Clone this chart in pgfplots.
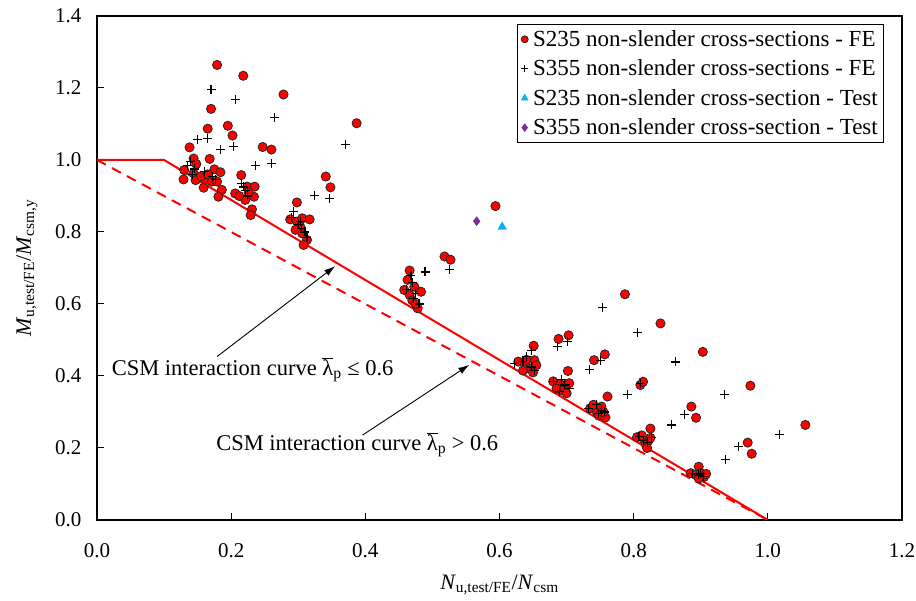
\documentclass[border=0pt]{standalone}
\usepackage{fontspec}
\setmainfont{Liberation Serif}
\usepackage{pgfplots}
\pgfplotsset{compat=1.18}
\usetikzlibrary{arrows.meta}
\definecolor{testcyan}{RGB}{0,176,240}
\definecolor{testpurple}{RGB}{112,48,160}

\begin{document}
\begin{tikzpicture}
\begin{axis}[
    scale only axis, width=805pt, height=504pt,
    xmin=0, xmax=1.2, ymin=0, ymax=1.4,
    xtick={0,0.2,...,1.2}, ytick={0,0.2,...,1.4},
    tick pos=left, tick align=inside, major tick length=7pt,
    tick style={black, line width=1pt},
    axis line style={line width=1.3pt},
    /pgf/number format/.cd, fixed, fixed zerofill, precision=1, assume math mode=true,
    /pgfplots/.cd,
    ticklabel style={font=\fontsize{21}{25}\selectfont},
    xticklabel style={yshift=-20pt},
    yticklabel style={xshift=-12pt},
    label style={font=\fontsize{22}{26}\selectfont},
    xlabel={\textit{N}\textsubscript{u,test/FE}/\textit{N}\textsubscript{csm}},
    ylabel={\textit{M}\textsubscript{u,test/FE}/\textit{M}\textsubscript{csm,y}},
    xlabel style={at={(axis description cs:0.5,-0.129)}, anchor=center},
    ylabel style={at={(axis description cs:-0.087,0.5)}, anchor=center},
    legend style={at={(rel axis cs:0.978,0.984)}, anchor=north east,
      draw=black, line width=1pt, font=\fontsize{23}{27}\selectfont,
      row sep=8pt, inner sep=4pt,
      /tikz/every odd column/.append style={column sep=3pt}},
    legend cell align=left,
    legend image post style={mark size=3.5pt},
  ]
  % CSM interaction curves
  \addplot[red, line width=2pt, forget plot] coordinates {(0,1)(0.1,1)(1,0)};
  \addplot[red, line width=2pt, dash pattern=on 10pt off 7pt, forget plot] coordinates {(0,1)(1,0)};

  % S235 FE
  \addplot[only marks, mark=*, mark size=4.6pt,
    mark options={fill=red, draw=black!85, line width=0.8pt}] coordinates {
    (0.179,1.264)(0.218,1.234)(0.278,1.182)(0.170,1.142)(0.195,1.095)(0.165,1.087)
    (0.202,1.068)(0.247,1.036)(0.260,1.029)(0.138,1.035)(0.168,1.003)(0.387,1.102)
    (0.341,0.954)(0.348,0.924)(0.215,0.958)(0.298,0.882)
    (0.144,1.004)(0.148,0.989)(0.130,0.972)(0.144,0.963)(0.129,0.946)(0.147,0.944)
    (0.159,0.923)(0.175,0.974)(0.184,0.966)(0.161,0.946)(0.171,0.940)(0.179,0.940)
    (0.186,0.917)(0.181,0.898)(0.155,0.955)(0.165,0.960)
    (0.206,0.907)(0.224,0.926)(0.235,0.926)(0.221,0.889)(0.234,0.898)(0.231,0.863)
    (0.229,0.847)(0.212,0.900)(0.226,0.910)
    (0.288,0.835)(0.298,0.829)(0.306,0.838)(0.317,0.835)(0.303,0.815)(0.296,0.806)
    (0.306,0.796)(0.313,0.778)(0.308,0.764)
    (0.518,0.732)(0.527,0.723)(0.594,0.872)(0.466,0.693)(0.463,0.667)(0.473,0.648)
    (0.483,0.634)(0.458,0.639)(0.466,0.625)(0.470,0.610)(0.478,0.588)(0.475,0.600)
    (0.651,0.484)(0.652,0.444)(0.628,0.440)(0.638,0.432)(0.645,0.420)(0.640,0.445)
    (0.650,0.410)(0.655,0.430)(0.635,0.415)
    (0.688,0.503)(0.703,0.513)(0.702,0.414)(0.680,0.385)(0.690,0.378)(0.698,0.370)
    (0.704,0.380)(0.693,0.360)(0.700,0.352)(0.685,0.365)
    (0.741,0.444)(0.757,0.460)(0.761,0.343)(0.810,0.375)(0.814,0.384)
    (0.735,0.310)(0.745,0.300)(0.752,0.315)(0.748,0.290)(0.758,0.285)(0.740,0.320)
    (0.755,0.300)
    (0.787,0.627)(0.840,0.546)(0.903,0.467)(0.886,0.315)(0.893,0.284)(0.825,0.254)
    (0.974,0.373)(1.056,0.264)(0.970,0.215)(0.976,0.184)
    (0.805,0.230)(0.815,0.225)(0.822,0.220)(0.818,0.210)(0.812,0.235)(0.825,0.228)
    (0.820,0.200)(0.897,0.148)
    (0.885,0.130)(0.893,0.125)(0.900,0.130)(0.905,0.120)(0.897,0.115)(0.908,0.128)
  };
  \addlegendentry{S235 non-slender cross-sections - FE}

  % S355 FE
  \addplot[only marks, mark=+, mark size=4.5pt,
    mark options={draw=black, line width=1.1pt}] coordinates {
    (0.170,1.197)(0.207,1.168)(0.265,1.118)(0.150,1.057)(0.165,1.060)(0.184,1.028)
    (0.204,1.037)(0.236,0.985)(0.260,0.991)(0.371,1.044)(0.324,0.901)(0.347,0.894)
    (0.293,0.856)
    (0.135,0.985)(0.145,0.975)(0.142,0.960)(0.160,0.968)(0.172,0.955)(0.176,0.945)
    (0.140,0.995)
    (0.215,0.935)(0.222,0.915)(0.225,0.900)(0.218,0.925)
    (0.290,0.840)(0.300,0.820)(0.305,0.810)(0.310,0.800)(0.303,0.830)(0.313,0.785)
    (0.489,0.689)(0.525,0.697)(0.468,0.680)(0.470,0.660)(0.462,0.640)(0.475,0.630)
    (0.472,0.615)(0.480,0.600)
    (0.648,0.470)(0.640,0.455)(0.622,0.435)(0.635,0.440)(0.648,0.425)(0.652,0.415)
    (0.686,0.481)(0.702,0.497)(0.680,0.385)(0.692,0.390)(0.697,0.375)(0.705,0.365)
    (0.690,0.358)
    (0.734,0.419)(0.750,0.442)(0.754,0.590)(0.806,0.522)(0.862,0.439)(0.791,0.349)
    (0.810,0.378)
    (0.733,0.310)(0.745,0.322)(0.752,0.305)(0.748,0.295)(0.757,0.300)
    (0.876,0.294)(0.857,0.264)(0.935,0.349)(1.018,0.238)(0.956,0.204)(0.937,0.167)
    (0.808,0.232)(0.815,0.222)(0.820,0.215)(0.826,0.230)
    (0.888,0.128)(0.897,0.125)(0.904,0.122)(0.900,0.130)
  };
  \addlegendentry{S355 non-slender cross-sections - FE}

  % Tests
  \addplot[only marks, mark=triangle*, mark size=5pt,
    mark options={fill=testcyan, draw=testcyan}] coordinates {(0.604,0.814)};
  \addlegendentry{S235 non-slender cross-section - Test}
  \addplot[only marks, mark=diamond*, mark size=4.5pt,
    mark options={fill=testpurple, draw=testpurple}] coordinates {(0.566,0.830)};
  \addlegendentry{S355 non-slender cross-section - Test}

  % annotations
  \draw[black, line width=0.9pt, -{Latex[length=11pt, width=7pt]}] (0.179,0.454) -- (0.355,0.705);
  \draw[black, line width=0.9pt, -{Latex[length=11pt, width=7pt]}] (0.396,0.236) -- (0.555,0.431);
  \node[font=\fontsize{22.5}{26}\selectfont] at (0.232,0.417)
    {CSM interaction curve $\overline{\hbox{λ}}$\textsubscript{p} ≤ 0.6};
  \node[font=\fontsize{22.5}{26}\selectfont] at (0.388,0.208)
    {CSM interaction curve $\overline{\hbox{λ}}$\textsubscript{p} > 0.6};
\end{axis}
\pgfresetboundingbox
\path (current axis.south west) ++(-97pt,-81pt) rectangle ([xshift=14pt,yshift=16pt]current axis.north east);
\end{tikzpicture}
\end{document}
